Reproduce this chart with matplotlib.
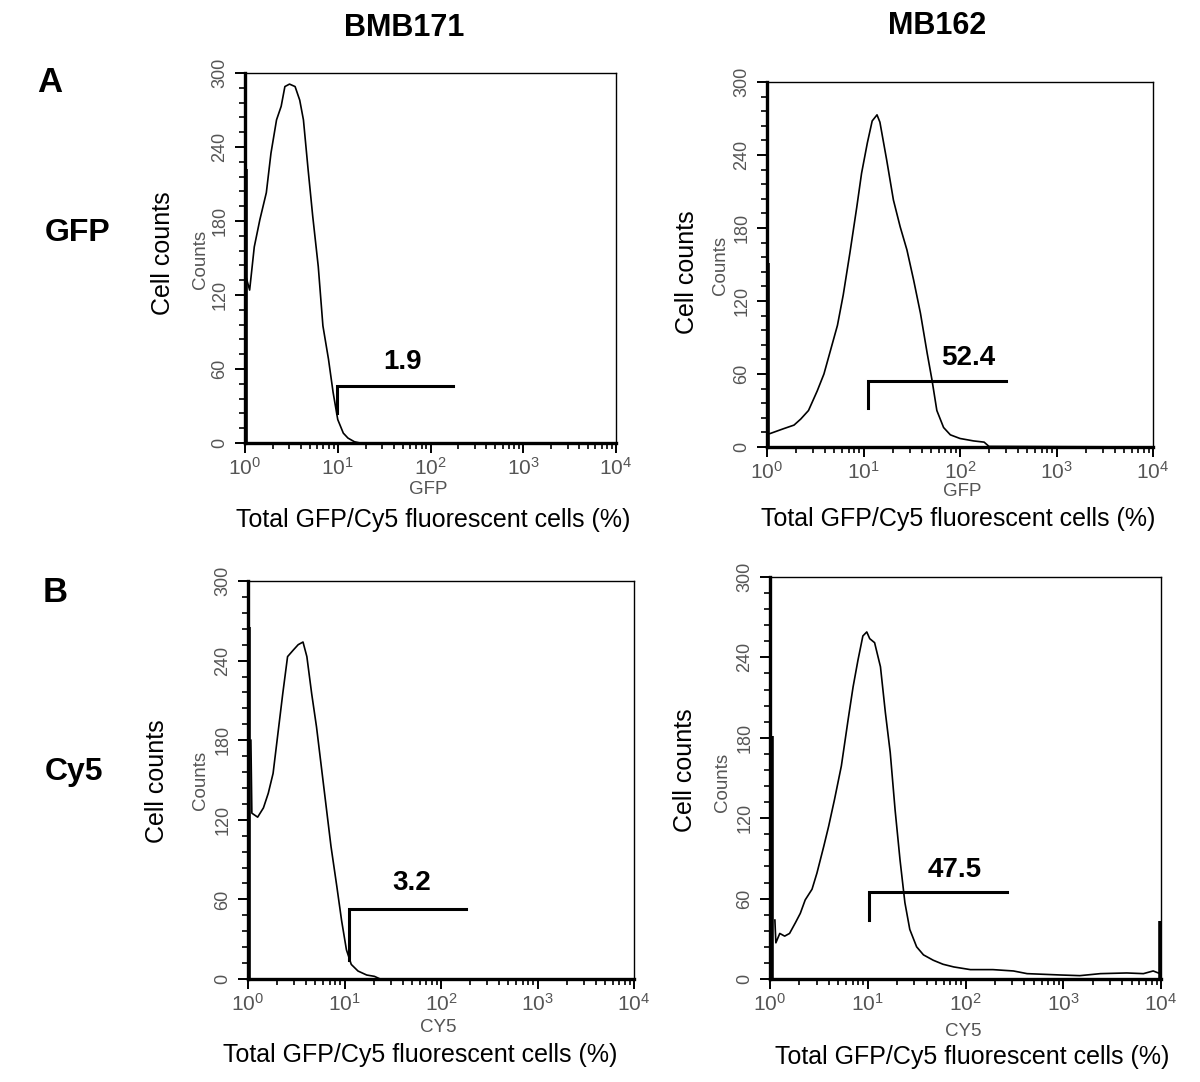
import numpy as np
import matplotlib
matplotlib.use("Agg")
import matplotlib.pyplot as plt

plt.rcParams['font.family'] = ['Liberation Sans', 'DejaVu Sans']
plt.rcParams['mathtext.fontset'] = 'custom'
plt.rcParams['mathtext.rm'] = 'Liberation Sans'
plt.rcParams['mathtext.it'] = 'Liberation Sans:italic'
plt.rcParams['mathtext.bf'] = 'Liberation Sans:bold'

# histogram traces: x = log10(fluorescence), y = counts
gfp_bmb_x = [0.01, 0.05, 0.10, 0.16, 0.23, 0.28, 0.34, 0.39, 0.43, 0.48, 0.54, 0.59, 0.63,
             0.68, 0.73, 0.79, 0.84, 0.90, 0.95, 1.00, 1.06, 1.11, 1.18, 1.24, 4.0]
gfp_bmb_y = [135, 124, 159, 181, 203, 235, 262, 273, 289, 291, 289, 278, 262,
             222, 184, 143, 95, 68, 41, 19, 8, 4, 1, 0, 0]

gfp_mb_x = [0.03, 0.17, 0.28, 0.35, 0.43, 0.52, 0.59, 0.66, 0.73, 0.79, 0.86, 0.93, 0.98,
            1.04, 1.09, 1.14, 1.17, 1.24, 1.31, 1.38, 1.45, 1.52, 1.59, 1.66, 1.71, 1.76,
            1.83, 1.90, 2.00, 2.14, 2.25, 2.30, 4.0]
gfp_mb_y = [11, 15, 18, 23, 30, 46, 60, 80, 100, 125, 160, 197, 225,
            250, 268, 273, 267, 236, 203, 181, 162, 137, 110, 77, 55, 30,
            16, 10, 7, 5, 4, 0.5, 0]

cy5_bmb_x = [0.03, 0.04, 0.10, 0.16, 0.21, 0.26, 0.31, 0.36, 0.41, 0.47, 0.52, 0.57, 0.61,
             0.66, 0.71, 0.76, 0.81, 0.86, 0.92, 0.97, 1.02, 1.07, 1.14, 1.23, 1.31, 1.37, 4.0]
cy5_bmb_y = [180, 125, 122, 129, 140, 155, 185, 215, 243, 248, 252, 254, 243,
             215, 190, 160, 130, 100, 70, 44, 22, 11, 6, 3, 2, 0, 0]

cy5_mb_x = [0.05, 0.06, 0.10, 0.15, 0.20, 0.26, 0.31, 0.36, 0.43, 0.48, 0.55, 0.60, 0.66,
            0.73, 0.80, 0.85, 0.90, 0.95, 0.99, 1.02, 1.07, 1.13, 1.18, 1.23, 1.28, 1.33,
            1.38, 1.43, 1.50, 1.57, 1.67, 1.77, 1.88, 2.05, 2.28, 2.49, 2.63, 2.97, 3.17,
            3.38, 3.65, 3.82, 3.92, 3.99]
cy5_mb_y = [44, 27, 34, 32, 34, 42, 49, 59, 67, 79, 99, 114, 134,
            159, 194, 218, 238, 256, 259, 254, 251, 233, 199, 169, 126, 89,
            57, 37, 24, 18, 14, 11, 9, 7, 7, 6, 4, 3, 2.5,
            4, 4.5, 4, 6, 4]

# pile-up bars at the scale edges (log10 x, height)
edge_bars = [[(0.01, 222)], [(0.01, 151)], [(0.01, 265)], [(0.02, 181), (3.99, 43)]]

# gates: x start, x end (log10), bar height, foot height, percentage label
gate_x0 = [0.99, 1.05, 1.05, 1.01]
gate_x1 = [2.24, 2.48, 2.26, 2.42]
gate_hi = [46, 54, 53, 65]
gate_lo = [24, 32, 14, 44]
gate_pct = ["1.9", "52.4", "3.2", "47.5"]
pct_pos = [(1.70, 66), (2.09, 73), (1.70, 72), (1.89, 81)]

channel = ["GFP", "GFP", "CY5", "CY5"]
y_ticks = [0, 60, 120, 180, 240, 300]

W, H = 1200, 1082
fig = plt.figure(figsize=(W / 100, H / 100), dpi=100)

# axes boxes in pixels: left, top, right, bottom
boxes = [(245, 73, 616, 443), (767, 82, 1153, 447),
         (248, 581, 634, 979), (770, 577, 1161, 979)]

def px(x, y):
    return x / W, 1 - y / H

traces = [(gfp_bmb_x, gfp_bmb_y), (gfp_mb_x, gfp_mb_y),
          (cy5_bmb_x, cy5_bmb_y), (cy5_mb_x, cy5_mb_y)]

grey = '#555555'
for i, (l, t, r, b) in enumerate(boxes):
    ax = fig.add_axes([l / W, 1 - b / H, (r - l) / W, (b - t) / H])
    xs, ys = traces[i]
    ax.plot(10 ** np.array(xs), ys, color='black', lw=1.2)
    for bx, bh in edge_bars[i]:
        ax.plot([10 ** bx, 10 ** bx], [0, bh], color='black', lw=2.6, solid_capstyle='butt')
    # gate marker
    ax.plot([10 ** gate_x0[i], 10 ** gate_x0[i], 10 ** gate_x1[i]],
            [gate_lo[i], gate_hi[i], gate_hi[i]], color='black', lw=2.2,
            solid_joinstyle='miter')
    ax.text(10 ** pct_pos[i][0], pct_pos[i][1], gate_pct[i], fontsize=20,
            fontweight='bold', ha='center', va='center')

    ax.set_xscale('log')
    ax.set_xlim(1, 1e4)
    ax.set_ylim(0, 300)
    ax.set_yticks(y_ticks)
    ax.set_yticks(np.arange(0, 301, 12), minor=True)
    ax.set_yticklabels([str(v) for v in y_ticks], rotation=90, va='center')
    ax.tick_params(axis='both', which='major', length=7, width=1.4,
                   labelcolor=grey, direction='out')
    ax.tick_params(axis='both', which='minor', length=4.5, width=1.2, direction='out')
    ax.tick_params(axis='y', pad=5, labelsize=13)
    ax.tick_params(axis='x', pad=3, labelsize=15)
    for side in ['left', 'bottom']:
        ax.spines[side].set_linewidth(2.4)
    for side in ['top', 'right']:
        ax.spines[side].set_linewidth(1.0)

# small grey instrument labels
counts_pos = [(200, 259), (721, 265), (200, 780), (722, 782)]
chan_pos = [(428, 489), (962, 491), (438, 1028), (963, 1031)]
for i in range(4):
    fig.text(*px(*counts_pos[i]), "Counts", rotation=90, fontsize=13.5, color=grey,
             ha='center', va='center')
    fig.text(*px(*chan_pos[i]), channel[i], fontsize=13.5, color=grey,
             ha='center', va='center')

# outer axis titles
cell_pos = [(163, 253), (687, 272), (157, 781), (685, 770)]
total_pos = [(433, 520), (958, 519), (420, 1055), (972, 1057)]
for i in range(4):
    fig.text(*px(*cell_pos[i]), "Cell counts", rotation=90, fontsize=18,
             ha='center', va='center')
    fig.text(*px(*total_pos[i]), "Total GFP/Cy5 fluorescent cells (%)", fontsize=18,
             ha='center', va='center')

# column / row headers
fig.text(*px(404, 28), "BMB171", fontsize=22, fontweight='bold', ha='center', va='center')
fig.text(*px(937, 26), "MB162", fontsize=22, fontweight='bold', ha='center', va='center')
fig.text(*px(50, 83), "A", fontsize=25, fontweight='bold', ha='center', va='center')
fig.text(*px(55, 592), "B", fontsize=25, fontweight='bold', ha='center', va='center')
fig.text(*px(78, 233), "GFP", fontsize=23, fontweight='bold', ha='center', va='center')
fig.text(*px(74, 772), "Cy5", fontsize=23, fontweight='bold', ha='center', va='center')

fig.savefig("out.png", dpi=100)
